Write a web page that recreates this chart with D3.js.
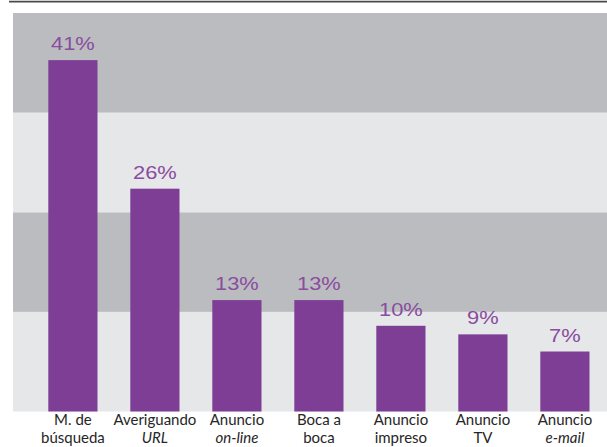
<!DOCTYPE html>
<html>
<head>
<meta charset="utf-8">
<script src="https://cdn.jsdelivr.net/npm/d3@7"></script>
<style>
  html, body { margin: 0; padding: 0; background: #ffffff; }
  svg { display: block; }
</style>
</head>
<body>
<svg id="chart" width="607" height="447"></svg>
<script>
// ---- data ----
const categories = ["M. de", "Averiguando", "Anuncio", "Boca a", "Anuncio", "Anuncio", "Anuncio"];
const categoriesLine2 = ["búsqueda", "URL", "on-line", "boca", "impreso", "TV", "e-mail"];
const line2Italic = [false, true, true, false, false, false, true];
const values = [41, 26, 13, 13, 10, 9, 7];
const valueLabels = ["41%", "26%", "13%", "13%", "10%", "9%", "7%"];
const yMax = 46.5;
const bandCount = 4;

// ---- layout ----
const W = 607, H = 447;
const plotLeft = 13, plotRight = 607, plotTop = 13, plotBottom = 411.5;

const svg = d3.select("#chart");

const x = d3.scaleBand()
  .domain(d3.range(categories.length))
  .range([31.9, 605.9])
  .paddingInner(0.4)
  .paddingOuter(0.2);

const y = d3.scaleLinear().domain([0, yMax]).range([plotBottom, plotTop]);

// top rule
svg.append("line")
  .attr("x1", 9).attr("x2", W)
  .attr("y1", 1.6).attr("y2", 1.6)
  .attr("stroke", "#4a4a4a").attr("stroke-width", 1.6);

// background bands
const bandEdges = d3.range(bandCount + 1).map(i => yMax * i / bandCount);
const bands = d3.range(bandCount).map(i => ({ lo: bandEdges[i], hi: bandEdges[i + 1], i }));
svg.append("g").selectAll("rect").data(bands).join("rect")
  .attr("x", plotLeft)
  .attr("width", plotRight - plotLeft)
  .attr("y", d => y(d.hi))
  .attr("height", d => y(d.lo) - y(d.hi))
  .attr("fill", d => d.i % 2 === 0 ? "#e6e7e9" : "#bbbcbf");

// bars
svg.append("g").selectAll("rect").data(values).join("rect")
  .attr("x", (d, i) => x(i))
  .attr("width", x.bandwidth())
  .attr("y", d => y(d))
  .attr("height", d => y(0) - y(d))
  .attr("fill", "#7e3e96");

// value labels (slightly stretched horizontally like the reference)
svg.append("g").selectAll("text").data(values).join("text")
  .attr("transform", (d, i) => `translate(${x(i) + x.bandwidth() / 2},${y(d) - 10}) scale(1.15,1)`)
  .attr("text-anchor", "middle")
  .attr("font-family", "'Liberation Sans', Arial, sans-serif")
  .attr("font-size", 19)
  .attr("fill", "#8a4c9f")
  .text((d, i) => valueLabels[i]);

// category labels
const catG = svg.append("g")
  .attr("font-family", "Lato, 'Noto Sans', sans-serif")
  .attr("font-size", 15)
  .attr("fill", "#262626")
  .attr("text-anchor", "middle");

catG.selectAll("text.l1").data(categories).join("text")
  .attr("class", "l1")
  .attr("x", (d, i) => x(i) + x.bandwidth() / 2)
  .attr("y", 424.5)
  .text(d => d);

catG.selectAll("text.l2").data(categoriesLine2).join("text")
  .attr("class", "l2")
  .attr("x", (d, i) => x(i) + x.bandwidth() / 2)
  .attr("y", 442.5)
  .attr("font-style", (d, i) => line2Italic[i] ? "italic" : "normal")
  .text(d => d);
</script>
</body>
</html>
